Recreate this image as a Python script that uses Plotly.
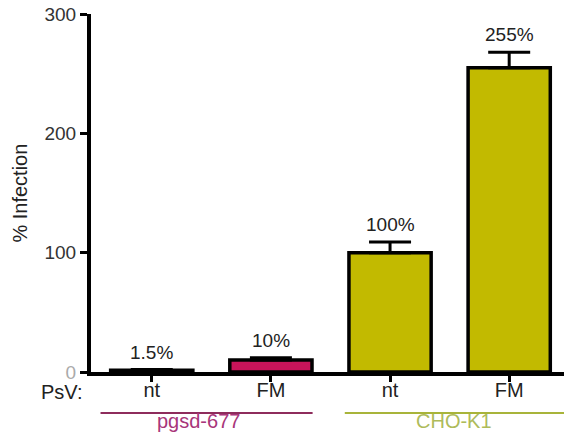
import plotly.graph_objects as go

# Infection relative to CHO-K1 untreated (nt) control
treatments = ["nt", "FM", "nt", "FM"]
cell_lines = ["pgsd-677", "pgsd-677", "CHO-K1", "CHO-K1"]
infection = [1.5, 10, 100, 255]
sem = [0.5, 2, 9, 13]
value_labels = ["1.5%", "10%", "100%", "255%"]

groups = ["pgsd-677", "CHO-K1"]
group_colors = {"pgsd-677": "#C8145A", "CHO-K1": "#C2BA00"}
group_line_colors = {"pgsd-677": "#8E2C5C", "CHO-K1": "#A8B43A"}
group_text_colors = {"pgsd-677": "#A8367A", "CHO-K1": "#AEBB5A"}

y_ticks = [0, 100, 200, 300]

FONT = "Liberation Sans, Arial, sans-serif"
xpos = list(range(len(treatments)))

# bracket padding (category units) left/right of each group, and label offset
bracket_pad = {"pgsd-677": (0.43, 0.35), "CHO-K1": (0.38, 0.46)}
label_offset = {"pgsd-677": -0.11, "CHO-K1": 0.04}

fig = go.Figure()
fig.add_trace(go.Bar(
    x=xpos,
    y=infection,
    width=0.69,
    marker=dict(color=[group_colors[c] for c in cell_lines],
                line=dict(color="black", width=3.5)),
    error_y=dict(type="data", array=sem, arrayminus=[0] * len(sem),
                 color="black", thickness=3, width=21),
    showlegend=False,
    hoverinfo="skip",
))

# value labels above the error bars
for x, v, e, lab in zip(xpos, infection, sem, value_labels):
    fig.add_annotation(x=x, y=v + e, text=lab, showarrow=False,
                       yanchor="bottom", yshift=5,
                       font=dict(family=FONT, size=19, color="#222222"))

# y-axis title
fig.add_annotation(xref="paper", yref="paper", x=-0.151, y=0.5,
                   xanchor="center", yanchor="middle",
                   text="% Infection", textangle=-90, showarrow=False,
                   font=dict(family=FONT, size=20, color="#222222"))

# row label for the treatment axis
fig.add_annotation(xref="paper", yref="paper", x=-0.012, y=-0.056,
                   text="PsV:", showarrow=False, xanchor="right", yanchor="middle",
                   font=dict(family=FONT, size=20, color="#222222"))

# cell-line brackets under the treatment labels
for g in groups:
    idx = [i for i, c in enumerate(cell_lines) if c == g]
    lpad, rpad = bracket_pad[g]
    fig.add_shape(type="line", xref="x", yref="paper",
                  x0=min(idx) - lpad, x1=max(idx) + rpad,
                  y0=-0.1145, y1=-0.1145,
                  line=dict(color=group_line_colors[g], width=2))
    fig.add_annotation(xref="x", yref="paper",
                       x=(min(idx) + max(idx)) / 2 + label_offset[g],
                       y=-0.137, text=g, showarrow=False,
                       xanchor="center", yanchor="middle",
                       font=dict(family=FONT, size=20, color=group_text_colors[g]))

tick_text = ["<span style='color:#AAAAAA'>0</span>"] + [str(t) for t in y_ticks[1:]]

fig.update_layout(
    width=564, height=442,
    margin=dict(l=91, r=0, t=14, b=70),
    paper_bgcolor="white", plot_bgcolor="white",
    xaxis=dict(
        range=[-0.51, 3.46],
        tickvals=xpos, ticktext=treatments,
        ticks="outside", ticklen=6, tickwidth=3, tickcolor="black",
        ticklabelstandoff=-9,
        showline=True, linecolor="black", linewidth=4,
        showgrid=False, zeroline=False,
        tickfont=dict(family=FONT, size=20, color="#222222"),
        fixedrange=True,
    ),
    yaxis=dict(
        range=[0, 300],
        tickvals=y_ticks, ticktext=tick_text,
        ticks="outside", ticklen=7, tickwidth=3, tickcolor="black",
        showline=True, linecolor="black", linewidth=4,
        showgrid=False, zeroline=False,
        tickfont=dict(family=FONT, size=19, color="#333333"),
        fixedrange=True,
    ),
)

fig.write_html("out.html")
